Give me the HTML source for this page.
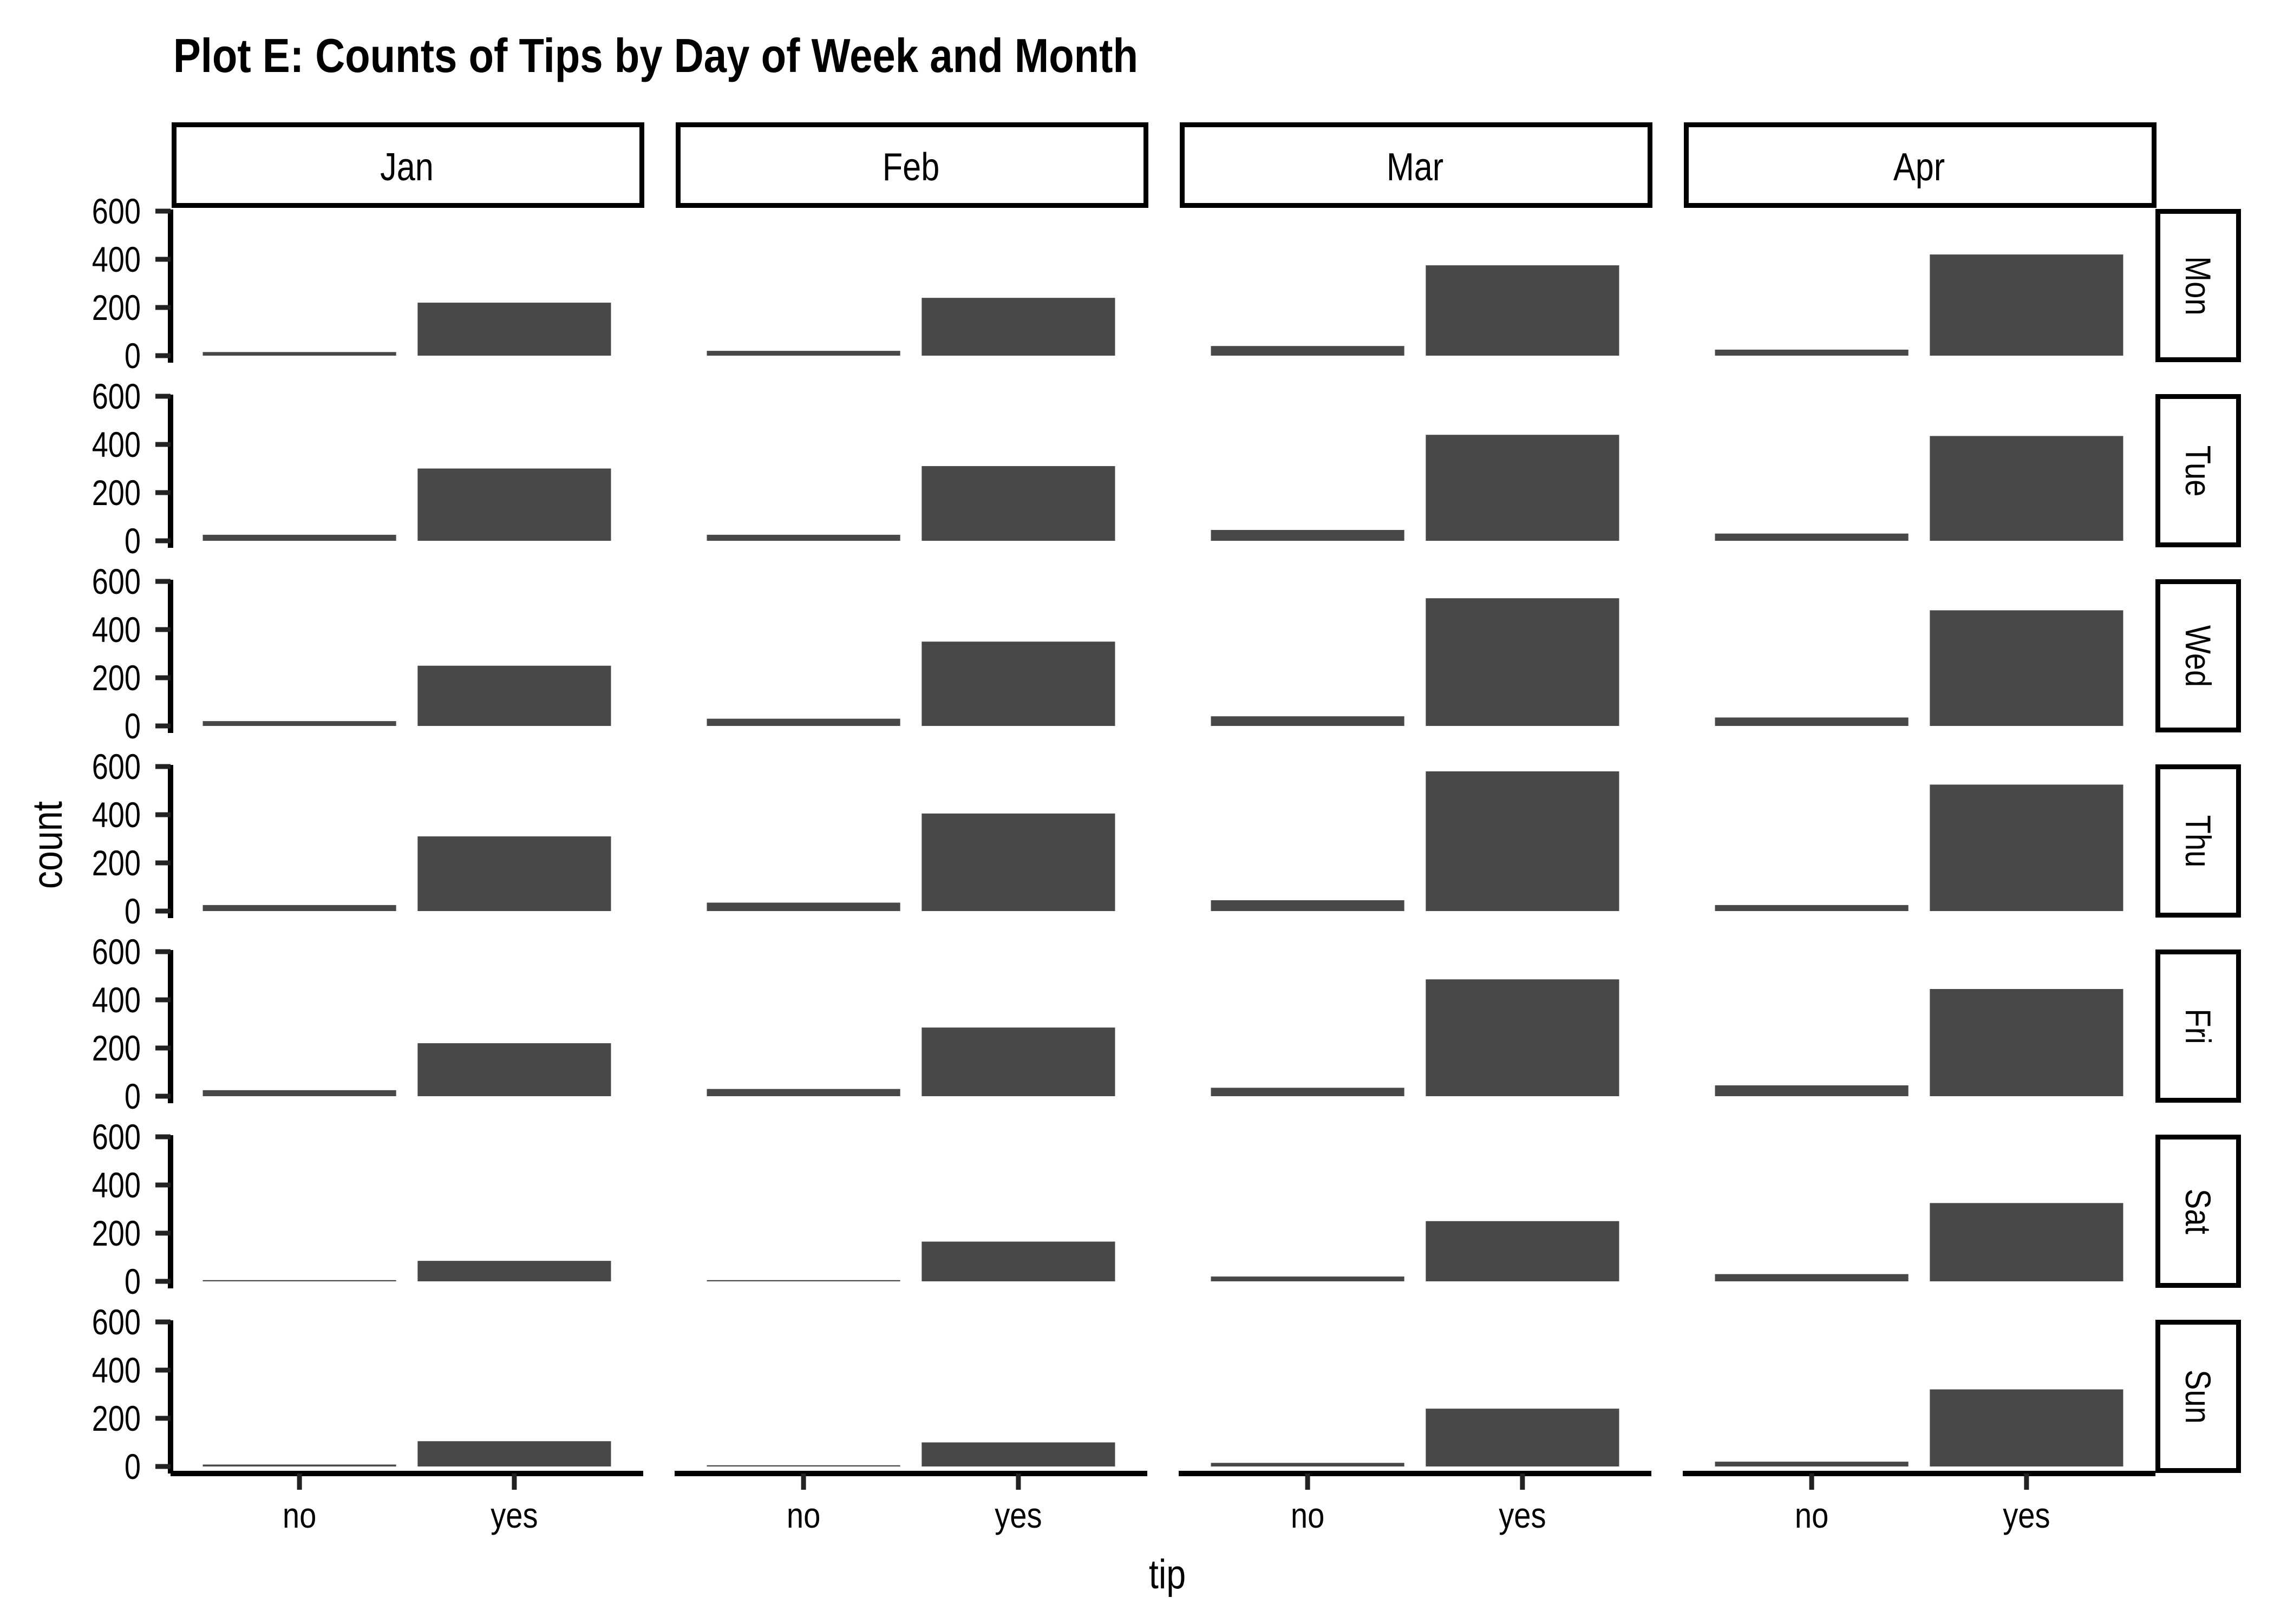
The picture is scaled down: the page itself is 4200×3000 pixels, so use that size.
<!DOCTYPE html>
<html><head><meta charset="utf-8">
<style>html,body{margin:0;padding:0;background:#fff}svg{display:block}</style>
</head><body>
<svg id="chart" xmlns="http://www.w3.org/2000/svg" width="4200" height="3000" viewBox="0 0 4200 3000" font-family="'Liberation Sans', sans-serif">
<rect width="4200" height="3000" fill="#fff"/>
<text x="320" y="133" font-size="88" font-weight="bold" textLength="1782" lengthAdjust="spacingAndGlyphs">Plot E: Counts of Tips by Day of Week and Month</text>
<text x="0" y="0" font-size="76" text-anchor="middle" transform="translate(2156,2934) scale(0.85,1)">tip</text>
<text x="0" y="0" font-size="78" text-anchor="middle" transform="translate(114,1561) rotate(-90) scale(0.85,1)">count</text>
<g id="panels"></g>
</svg>
<script>
const months = ["Jan","Feb","Mar","Apr"];
const days = ["Mon","Tue","Wed","Thu","Fri","Sat","Sun"];
const tipCats = ["no","yes"];
const yTicks = [0,200,400,600];
// counts[day][month]
const noCounts = [
  [15,20,40,25],
  [25,25,45,30],
  [20,30,40,35],
  [25,35,45,25],
  [25,30,35,45],
  [5,5,20,30],
  [8,5,15,20]
];
const yesCounts = [
  [220,240,375,420],
  [300,310,440,435],
  [250,350,530,480],
  [310,405,580,525],
  [220,285,485,445],
  [85,165,250,325],
  [105,100,240,320]
];

const NS = "http://www.w3.org/2000/svg";
const g = document.getElementById("panels");
const panelX0 = 315, panelPitch = 931, panelW = 873;
const zero0 = 657, rowPitch = 342, pxPerUnit = 0.445;
const xScale = (i, col) => panelX0 + col*panelPitch + (i + 1 - 0.4) / 2.2 * panelW;
const yScale = (v, row) => zero0 + row*rowPitch - v*pxPerUnit;
function mk(tag, attrs){ const e=document.createElementNS(NS,tag); for(const k in attrs) e.setAttribute(k,attrs[k]); g.appendChild(e); return e; }

months.forEach((m,c)=>{
  const x = panelX0 + c*panelPitch;
  const r = mk("rect",{x:x+6.5,y:230.5,width:panelW-9,height:149,fill:"#fff",stroke:"#000","stroke-width":9});
  
  
  const t = mk("text",{x:0,y:0,"font-size":72,"text-anchor":"middle",transform:`translate(${x+panelW/2},333) scale(0.85,1)`});
  t.textContent = m;
  
  
});

days.forEach((d,r)=>{
  const z = yScale(0,r);
  const rs = mk("rect",{x:3985.5,y:z-266.5,width:149,height:274,fill:"#fff",stroke:"#000","stroke-width":9});
  
  
  const rt = mk("text",{x:0,y:0,"font-size":66,"text-anchor":"middle",transform:`translate(4037,${z-129}) rotate(90) scale(0.85,1)`});
  rt.textContent = d;
  
  
  const ax = mk("line",{x1:315,x2:315,y1:z-270,y2:z+13,stroke:"#000","stroke-width":10});
  
  
  yTicks.forEach(v=>{
    const ty = yScale(v,r);
    const tk = mk("line",{x1:287,x2:315,y1:ty,y2:ty,stroke:"#222","stroke-width":9});
    
    
    const tl = mk("text",{x:0,y:0,"font-size":66,"text-anchor":"end",transform:`translate(260,${ty+23}) scale(0.82,1)`});
    tl.textContent = String(v);
    
    
  });
  months.forEach((m,c)=>{
    [noCounts[r][c], yesCounts[r][c]].forEach((v,i)=>{
      const cx = xScale(i,c);
      const bw = 0.9/2.2*panelW;
      const b = mk("rect",{x:cx-bw/2,y:yScale(v,r),width:bw,height:v*pxPerUnit,fill:"#484848"});
      
      
    });
  });
});

months.forEach((m,c)=>{
  const x = panelX0 + c*panelPitch;
  const yb = yScale(0,6) + 13;
  const xl = mk("line",{x1:x,x2:x+panelW,y1:yb,y2:yb,stroke:"#000","stroke-width":10});
  
  
  tipCats.forEach((cat,i)=>{
    const cx = xScale(i,c);
    const tk = mk("line",{x1:cx,x2:cx,y1:yb,y2:yb+30,stroke:"#222","stroke-width":9});
    
    
    const tl = mk("text",{x:0,y:0,"font-size":66,"text-anchor":"middle",transform:`translate(${cx},2822) scale(0.85,1)`});
    tl.textContent = cat;
    
    
  });
});
</script>
</body></html>
